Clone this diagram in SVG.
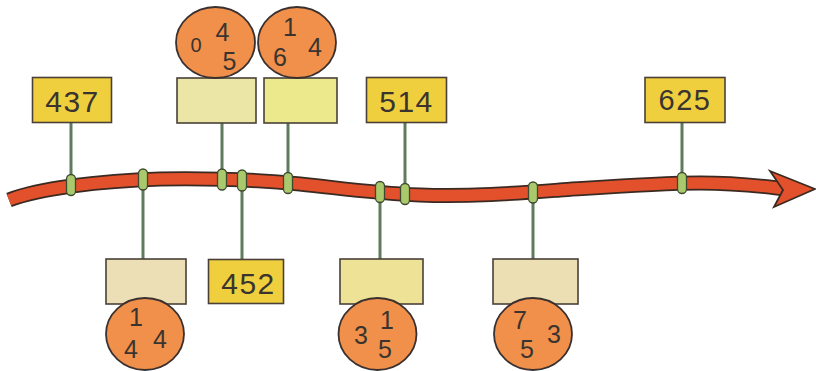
<svg xmlns="http://www.w3.org/2000/svg" width="816" height="371" viewBox="0 0 816 371">
<style>
.num{fill:#f0cf3e;stroke:#4a4038;stroke-width:1.6}
.blank{stroke:#4a4038;stroke-width:1.6}
.ball{fill:#f0904a;stroke:#3b3030;stroke-width:1.8}
.t{font-family:"Liberation Sans",Arial,sans-serif;fill:#3a3430;text-anchor:middle}
.big{font-size:30px;letter-spacing:1.5px}
.sm{font-size:25px}
.stem{stroke:#5f7a5c;stroke-width:3;fill:none}
.ring{fill:#a9c96c;stroke:#3d4a30;stroke-width:1.3}
</style>
<g id="timeline">
<path d="M9,200 C40,188 100,181 160,179 C220,178 260,180 300,184 C340,188 370,193 420,195 C470,197 520,193 560,190 C620,186 660,183 700,183 C740,183 760,186 786,189" fill="none" stroke="#3a2a22" stroke-width="15"/>
<path d="M9,200 C40,188 100,181 160,179 C220,178 260,180 300,184 C340,188 370,193 420,195 C470,197 520,193 560,190 C620,186 660,183 700,183 C740,183 760,186 786,189" fill="none" stroke="#e2502c" stroke-width="11.5"/>
<path d="M770,171 L815,189 L774,207 L783,190 Z" fill="#e2502c" stroke="#3a2a22" stroke-width="1.8" stroke-linejoin="miter"/>
</g>
<g id="connectors">
<line class="stem" x1="71" y1="123" x2="71" y2="185"/>
<line class="stem" x1="222" y1="123" x2="222" y2="180"/>
<line class="stem" x1="288" y1="123" x2="288" y2="183"/>
<line class="stem" x1="405" y1="123" x2="405" y2="194"/>
<line class="stem" x1="682" y1="123" x2="682" y2="183"/>
<line class="stem" x1="143" y1="180" x2="143" y2="259"/>
<line class="stem" x1="242" y1="180" x2="242" y2="260"/>
<line class="stem" x1="380" y1="193" x2="380" y2="259"/>
<line class="stem" x1="533" y1="192" x2="533" y2="259"/>
<g>
<rect class="ring" x="66.5" y="174.5" width="9" height="21" rx="4.5"/>
<rect class="ring" x="138.5" y="169" width="9" height="21" rx="4.5"/>
<rect class="ring" x="217.5" y="169" width="9" height="21" rx="4.5"/>
<rect class="ring" x="237.5" y="170" width="9" height="21" rx="4.5"/>
<rect class="ring" x="283.5" y="172.5" width="9" height="21" rx="4.5"/>
<rect class="ring" x="375.5" y="181.5" width="9" height="21" rx="4.5"/>
<rect class="ring" x="400.5" y="183.5" width="9" height="21" rx="4.5"/>
<rect class="ring" x="528.5" y="182" width="9" height="21" rx="4.5"/>
<rect class="ring" x="677.5" y="172.5" width="9" height="21" rx="4.5"/>
</g>
</g>
<g id="n437"><rect class="num" x="32.5" y="77.5" width="79" height="45"/><text class="t big" x="72.5" y="112">437</text></g>
<g id="n514"><rect class="num" x="366.5" y="77.5" width="80" height="45"/><text class="t big" x="406.5" y="112">514</text></g>
<g id="n625"><rect class="num" x="645" y="77.5" width="80" height="45"/><text class="t big" x="685" y="110" style="font-size:29px">625</text></g>
<g id="n452"><rect class="num" x="208.5" y="259.5" width="75" height="44"/><text class="t big" x="248.5" y="294">452</text></g>
<g id="b045"><rect class="blank" x="177" y="78" width="79" height="45" fill="#ebe5a6"/><ellipse class="ball" cx="215.5" cy="42.5" rx="39.5" ry="35.5"/><text class="t" x="196" y="52" style="font-size:20px">0</text><text class="t sm" x="222.5" y="41">4</text><text class="t sm" x="229.5" y="70">5</text></g>
<g id="b164"><rect class="blank" x="264" y="78" width="73" height="45" fill="#ece88c"/><ellipse class="ball" cx="297" cy="42.5" rx="39" ry="35.5"/><text class="t sm" x="290" y="36">1</text><text class="t sm" x="315" y="56">4</text><text class="t sm" x="280" y="66">6</text></g>
<g id="b144"><rect class="blank" x="106" y="259" width="80" height="45" fill="#ecdfb5"/><ellipse class="ball" cx="145" cy="334" rx="39" ry="36"/><text class="t sm" x="136" y="326">1</text><text class="t sm" x="131" y="358">4</text><text class="t sm" x="160" y="348">4</text></g>
<g id="b315"><rect class="blank" x="340" y="259" width="83" height="45" fill="#eee296"/><ellipse class="ball" cx="377.5" cy="334" rx="39" ry="36"/><text class="t sm" x="361" y="344">3</text><text class="t sm" x="387" y="329">1</text><text class="t sm" x="385" y="358">5</text></g>
<g id="b753"><rect class="blank" x="493" y="259" width="85" height="45" fill="#ecdfb3"/><ellipse class="ball" cx="533" cy="334" rx="39" ry="36"/><text class="t sm" x="520" y="329">7</text><text class="t sm" x="554" y="343">3</text><text class="t sm" x="527" y="358">5</text></g>
</svg>
